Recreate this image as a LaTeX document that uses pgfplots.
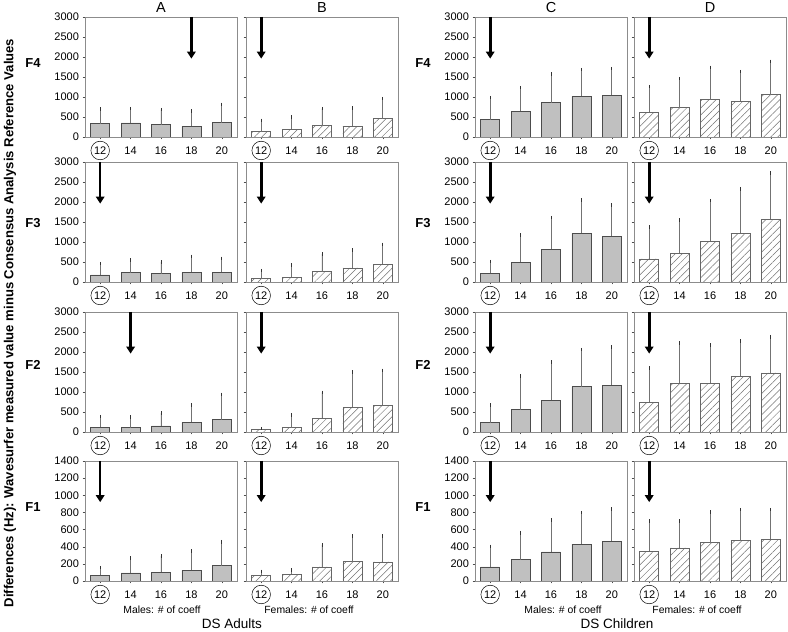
\documentclass[border=0pt]{standalone}
\usepackage{pgfplots}
\pgfplotsset{compat=1.18}
\usepackage{pgfplotstable}
\usetikzlibrary{patterns.meta,arrows.meta}
\usepackage{fontspec}
\setmainfont{Liberation Sans}

\definecolor{bargray}{RGB}{192,192,192}
\definecolor{framegray}{RGB}{140,140,140}

\newcommand{\cir}[1]{\tikz[baseline=(c.base)]\node[draw=black,circle,inner sep=1.5pt,line width=0.5pt](c){#1};}

% columns: x, bar value and top of error bar for F4, F3, F2, F1
\pgfplotstableread{
x F4 F4t F3 F3t F2 F2t F1 F1t
0 333 700 176 461 117 385 66 156
1 350 708 235 553 109 369 94 266
2 308 683 209 494 151 469 102 289
3 267 650 243 637 243 670 125 348
4 358 817 243 587 310 939 180 458
}\tA
\pgfplotstableread{
x F4 F4t F3 F3t F2 F2t F1 F1t
0 133 417 84 285 59 84 66 113
1 192 500 117 419 109 419 78 125
2 283 708 260 695 343 989 164 422
3 267 725 352 796 620 1500 227 524
4 458 958 444 939 670 1542 223 524
}\tB
\pgfplotstableread{
x F4 F4t F3 F3t F2 F2t F1 F1t
0 433 983 218 511 235 670 164 403
1 642 1233 494 1173 561 1399 250 563
2 858 1575 813 1609 788 1743 340 712
3 1017 1683 1215 2053 1131 2061 430 798
4 1042 1708 1148 1919 1173 2128 465 841
}\tC
\pgfplotstableread{
x F4 F4t F3 F3t F2 F2t F1 F1t
0 617 1258 578 1374 746 1601 348 700
1 733 1458 721 1550 1223 2221 387 700
2 933 1742 1022 2036 1223 2170 446 806
3 892 1633 1215 2330 1399 2271 469 833
4 1058 1892 1567 2723 1475 2380 485 833
}\tD

\tikzset{arr/.style={line width=2.6pt, -{Triangle[length=7pt,width=8.5pt]}}}

\pgfplotsset{
  panel/.style={
    scale only axis, width=152pt, height=120pt, anchor=south west,
    xmin=-0.5, xmax=4.5, ymin=0,
    xtick={0,1,2,3,4}, xticklabels={\cir{12},14,16,18,20},
    xtick pos=bottom, ytick pos=left, tick align=outside,
    major tick length=2.5pt,
    tick style={black!70, line width=0.4pt},
    axis line style={framegray, line width=0.8pt},
    tick label style={font=\fontsize{11}{13}\selectfont},
    xticklabel style={anchor=center, yshift=-11pt},
    /pgf/number format/assume math mode=true,
    /pgf/number format/1000 sep={},
  },
  big/.style={ymax=3000, ytick={0,500,...,3000}},
  small/.style={ymax=1400, ytick={0,200,...,1400}},
  nolab/.style={yticklabels={}},
  solidbar/.style={ybar, bar width=0.62, fill=bargray, draw=black!70, line width=0.6pt,
    error bars/.cd, y dir=plus, y explicit,
    error bar style={black!55, line width=0.8pt},
    error mark options={black!80, mark size=1.8pt, line width=0.8pt}},
  hatchbar/.style={ybar, bar width=0.62, draw=black!60, line width=0.6pt,
    pattern={Lines[angle=45,distance=5pt,line width=0.5pt]}, pattern color=black!55,
    error bars/.cd, y dir=plus, y explicit,
    error bar style={black!55, line width=0.8pt},
    error mark options={black!80, mark size=1.8pt, line width=0.8pt}},
}

\begin{document}
\begin{tikzpicture}
\useasboundingbox (0,0) rectangle (788pt,632pt);

% ---------------- Row F4 ----------------
\begin{axis}[panel,big,at={(85pt,495pt)}]
\addplot[solidbar] table[x=x,y=F4,y error plus expr=\thisrow{F4t}-\thisrow{F4}]{\tA};
\draw[arr] (axis cs:3,3000) -- (axis cs:3,1960);
\end{axis}
\begin{axis}[panel,big,nolab,at={(246pt,495pt)}]
\addplot[hatchbar] table[x=x,y=F4,y error plus expr=\thisrow{F4t}-\thisrow{F4}]{\tB};
\draw[arr] (axis cs:0,3000) -- (axis cs:0,1960);
\end{axis}
\begin{axis}[panel,big,at={(475pt,495pt)}]
\addplot[solidbar] table[x=x,y=F4,y error plus expr=\thisrow{F4t}-\thisrow{F4}]{\tC};
\draw[arr] (axis cs:0,3000) -- (axis cs:0,1960);
\end{axis}
\begin{axis}[panel,big,nolab,at={(634pt,495pt)}]
\addplot[hatchbar] table[x=x,y=F4,y error plus expr=\thisrow{F4t}-\thisrow{F4}]{\tD};
\draw[arr] (axis cs:0,3000) -- (axis cs:0,1960);
\end{axis}

% ---------------- Row F3 ----------------
\begin{axis}[panel,big,at={(85pt,350pt)}]
\addplot[solidbar] table[x=x,y=F3,y error plus expr=\thisrow{F3t}-\thisrow{F3}]{\tA};
\draw[arr] (axis cs:0,3000) -- (axis cs:0,1960);
\end{axis}
\begin{axis}[panel,big,nolab,at={(246pt,350pt)}]
\addplot[hatchbar] table[x=x,y=F3,y error plus expr=\thisrow{F3t}-\thisrow{F3}]{\tB};
\draw[arr] (axis cs:0,3000) -- (axis cs:0,1960);
\end{axis}
\begin{axis}[panel,big,at={(475pt,350pt)}]
\addplot[solidbar] table[x=x,y=F3,y error plus expr=\thisrow{F3t}-\thisrow{F3}]{\tC};
\draw[arr] (axis cs:0,3000) -- (axis cs:0,1960);
\end{axis}
\begin{axis}[panel,big,nolab,at={(634pt,350pt)}]
\addplot[hatchbar] table[x=x,y=F3,y error plus expr=\thisrow{F3t}-\thisrow{F3}]{\tD};
\draw[arr] (axis cs:0,3000) -- (axis cs:0,1960);
\end{axis}

% ---------------- Row F2 ----------------
\begin{axis}[panel,big,at={(85pt,200pt)}]
\addplot[solidbar] table[x=x,y=F2,y error plus expr=\thisrow{F2t}-\thisrow{F2}]{\tA};
\draw[arr] (axis cs:1,3000) -- (axis cs:1,1960);
\end{axis}
\begin{axis}[panel,big,nolab,at={(246pt,200pt)}]
\addplot[hatchbar] table[x=x,y=F2,y error plus expr=\thisrow{F2t}-\thisrow{F2}]{\tB};
\draw[arr] (axis cs:0,3000) -- (axis cs:0,1960);
\end{axis}
\begin{axis}[panel,big,at={(475pt,200pt)}]
\addplot[solidbar] table[x=x,y=F2,y error plus expr=\thisrow{F2t}-\thisrow{F2}]{\tC};
\draw[arr] (axis cs:0,3000) -- (axis cs:0,1960);
\end{axis}
\begin{axis}[panel,big,nolab,at={(634pt,200pt)}]
\addplot[hatchbar] table[x=x,y=F2,y error plus expr=\thisrow{F2t}-\thisrow{F2}]{\tD};
\draw[arr] (axis cs:0,3000) -- (axis cs:0,1960);
\end{axis}

% ---------------- Row F1 ----------------
\begin{axis}[panel,small,at={(85pt,51pt)}]
\addplot[solidbar] table[x=x,y=F1,y error plus expr=\thisrow{F1t}-\thisrow{F1}]{\tA};
\draw[arr] (axis cs:0,1400) -- (axis cs:0,920);
\end{axis}
\begin{axis}[panel,small,nolab,at={(246pt,51pt)}]
\addplot[hatchbar] table[x=x,y=F1,y error plus expr=\thisrow{F1t}-\thisrow{F1}]{\tB};
\draw[arr] (axis cs:0,1400) -- (axis cs:0,920);
\end{axis}
\begin{axis}[panel,small,at={(475pt,51pt)}]
\addplot[solidbar] table[x=x,y=F1,y error plus expr=\thisrow{F1t}-\thisrow{F1}]{\tC};
\draw[arr] (axis cs:0,1400) -- (axis cs:0,920);
\end{axis}
\begin{axis}[panel,small,nolab,at={(634pt,51pt)}]
\addplot[hatchbar] table[x=x,y=F1,y error plus expr=\thisrow{F1t}-\thisrow{F1}]{\tD};
\draw[arr] (axis cs:0,1400) -- (axis cs:0,920);
\end{axis}

% ---------------- Texts ----------------
\begin{scope}[every node/.style={font=\fontsize{14.5}{16}\selectfont}]
\node at (161pt,624pt) {A};
\node at (322pt,624pt) {B};
\node at (551pt,624pt) {C};
\node at (710pt,624pt) {D};
\end{scope}
\begin{scope}[every node/.style={font=\bfseries\fontsize{13}{15}\selectfont}]
\node at (33pt,569pt) {F4};  \node at (423pt,569pt) {F4};
\node at (33pt,409pt) {F3};  \node at (423pt,409pt) {F3};
\node at (33pt,267pt) {F2};  \node at (423pt,267pt) {F2};
\node at (33pt,125pt) {F1};  \node at (423pt,125pt) {F1};
\end{scope}
\node[rotate=90, font=\bfseries\fontsize{13.1}{15}\selectfont] at (10pt,309pt)
  {Differences (Hz): Wavesurfer measured value minus Consensus Analysis Reference Values};
\begin{scope}[every node/.style={font=\fontsize{10.4}{12}\selectfont}]
\node at (162pt,22pt) {Males: \# of coeff};
\node at (309pt,22pt) {Females: \# of coeff};
\node at (563pt,22pt) {Males: \# of coeff};
\node at (697pt,22pt) {Females: \# of coeff};
\end{scope}
\begin{scope}[every node/.style={font=\fontsize{13.5}{15}\selectfont}]
\node at (232pt,8pt) {DS Adults};
\node at (617pt,8pt) {DS Children};
\end{scope}
\end{tikzpicture}
\end{document}
